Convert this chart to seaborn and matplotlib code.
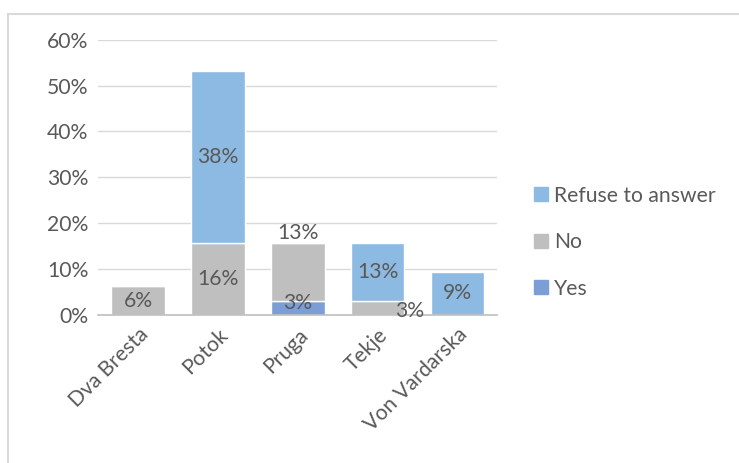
import numpy as np
import matplotlib.pyplot as plt
import seaborn as sns
from matplotlib.patches import Rectangle, Patch
from matplotlib.ticker import PercentFormatter

# data (fractions)
places = ['Dva Bresta', 'Potok', 'Pruga', 'Tekje', 'Von Vardarska']
yes = [0.0, 0.0, 0.031, 0.0, 0.0]
no = [0.0625, 0.156, 0.125, 0.031, 0.0]
refuse = [0.0, 0.375, 0.0, 0.125, 0.094]

yes_lbl = ['', '', '3%', '', '']
no_lbl = ['6%', '16%', '13%', '3%', '']
refuse_lbl = ['', '38%', '', '13%', '9%']

c_yes = '#7B9ED6'
c_no = '#BFBFBF'
c_ref = '#8DBAE2'
txt = '#595959'
fs = 15.2

sns.set_theme(style='white')
plt.rcParams['font.family'] = ['Lato', 'DejaVu Sans']

fig = plt.figure(figsize=(7.39, 4.63), dpi=100)
ax = fig.add_axes([0.133, 0.320, 0.540, 0.594])

# outer chart frame
fig.patches.append(Rectangle((8 / 739, -0.1), 1.2, 1 - 14 / 463 + 0.1, transform=fig.transFigure,
                             fill=False, edgecolor='#D9D9D9', linewidth=1.5))

b1 = np.array(yes)
b2 = b1 + np.array(no)
sns.barplot(x=places, y=yes, color=c_yes, width=0.67, saturation=1, errorbar=None, ax=ax)
sns.barplot(x=places, y=no, bottom=b1, color=c_no, width=0.67, saturation=1, errorbar=None, ax=ax)
sns.barplot(x=places, y=refuse, bottom=b2, color=c_ref, width=0.67, saturation=1, errorbar=None, ax=ax)

ax.set_ylim(0, 0.6)
ax.set_yticks(np.arange(0, 0.61, 0.1))
ax.yaxis.set_major_formatter(PercentFormatter(1.0, decimals=0))
ax.grid(axis='y', color='#D9D9D9', linewidth=1)
ax.set_axisbelow(True)
for s in ['top', 'right', 'left']:
    ax.spines[s].set_visible(False)
ax.spines['bottom'].set_color('#BFBFBF')
ax.spines['bottom'].set_linewidth(1.2)
ax.tick_params(axis='both', length=0, labelsize=fs, colors=txt, pad=7)
ax.set_xlim(-0.5, 4.5)
plt.setp(ax.get_xticklabels(), rotation=45, ha='right', rotation_mode='anchor')
ax.set_xlabel('')
ax.set_ylabel('')

# data labels
for i in range(len(places)):
    if yes_lbl[i]:
        ax.text(i, b1[i] / 2 + 0.01, yes_lbl[i], ha='center', va='center', fontsize=fs, color=txt)
    if no_lbl[i]:
        if places[i] == 'Pruga':
            ax.text(i, b2[i] + 0.022, no_lbl[i], ha='center', va='center', fontsize=fs, color=txt)
        elif places[i] == 'Tekje':
            ax.text(i + 0.4, b1[i] + no[i] / 2 - 0.008, no_lbl[i], ha='center', va='center', fontsize=fs, color=txt)
        else:
            ax.text(i, b1[i] + no[i] / 2, no_lbl[i], ha='center', va='center', fontsize=fs, color=txt)
    if refuse_lbl[i]:
        ax.text(i, b2[i] + refuse[i] / 2, refuse_lbl[i], ha='center', va='center', fontsize=fs, color=txt)

handles = [Patch(color=c_ref, label='Refuse to answer'),
           Patch(color=c_no, label='No'),
           Patch(color=c_yes, label='Yes')]
fig.legend(handles=handles, loc='center left', bbox_to_anchor=(0.697, 0.477), frameon=False,
           fontsize=fs, labelcolor=txt, handlelength=0.65, handleheight=0.65, handletextpad=0.3,
           labelspacing=1.25)

fig.savefig('out.png', dpi=100)
